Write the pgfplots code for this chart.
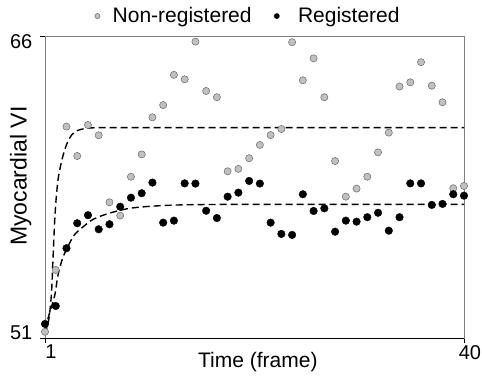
\documentclass[border=0pt]{standalone}
\usepackage{fontspec}
\setmainfont{Liberation Sans}
\usepackage{pgfplots}
\pgfplotsset{compat=1.18}
\definecolor{ptgrey}{RGB}{192,192,192}
\definecolor{ptedge}{RGB}{105,105,105}
\definecolor{boxgrey}{RGB}{128,128,128}
\pgfplotsset{
  legA/.style={legend image code/.code={\draw[##1] plot coordinates {(0pt,0pt)}; \path (-3pt,0pt) (15pt,0pt);}},
  legB/.style={legend image code/.code={\draw[##1] plot coordinates {(0pt,0pt)}; \path (-3pt,0pt) (21pt,0pt);}},
}
\begin{document}
\begin{tikzpicture}
\useasboundingbox (-45pt,-37pt) rectangle (437pt,338pt);
\begin{axis}[
  scale only axis, width=419pt, height=302pt,
  xmin=1, xmax=40, ymin=51, ymax=66,
  clip=false,
  font=\fontsize{20}{24}\selectfont,
  axis line style={boxgrey, line width=0.8pt},
  xtick={1,40}, xticklabels={1,40},
  ytick={51,66},
  yticklabels={\raisebox{5.5pt}[\height][\depth]{51},\raisebox{-6pt}[\height][\depth]{66}},
  xtick pos=bottom, ytick pos=left,
  tick align=outside, major tick length=5pt,
  tick style={black, line width=0.8pt},
  xticklabel style={anchor=north, inner sep=0pt, xshift=6pt, yshift=-2pt},
  yticklabel style={anchor=east, inner sep=0pt, xshift=-7.5pt},
  xlabel={Time (frame)},
  xlabel style={at={(axis description cs:0.508,-0.0454)}, anchor=north, inner sep=0pt,
    font=\fontsize{21}{25}\selectfont},
  ylabel={Myocardial VI},
  ylabel style={at={(axis description cs:-0.0317,0.536)}, anchor=south, inner sep=0pt,
    font=\fontsize{23}{27}\selectfont},
  legend style={at={(axis description cs:0.482,1.066)}, anchor=center, draw=none, fill=none,
    font=\fontsize{21}{25}\selectfont, inner sep=0pt,
    nodes={inner sep=0pt},
    /tikz/every even column/.append style={column sep=22pt}},
  legend columns=2,
  after end axis/.code={\draw[black, line width=0.8pt] (rel axis cs:0,0) -- (rel axis cs:1,0);},
]
% Non-registered
\addplot[only marks, mark=*, mark size=3.6pt, mark options={fill=ptgrey, draw=ptedge, line width=0.5pt}, forget plot]
 coordinates {
 (1,51.31) (2,54.38) (3,61.5) (4,60.04) (5,61.58) (6,61.07) (7,57.74) (8,57.08) (9,59.01) (10,60.12)
 (11,61.96) (12,62.57) (13,64.07) (14,63.85) (15,65.72) (16,63.27) (17,62.96) (18,59.28) (19,59.40) (20,59.93)
 (21,60.59) (22,61.08) (23,61.38) (24,65.69) (25,63.80) (26,64.89) (27,62.96) (28,59.79) (29,58.02) (30,58.42)
 (31,59.01) (32,60.22) (33,61.20) (34,63.49) (35,63.70) (36,64.70) (37,63.53) (38,62.71) (39,58.44) (40,58.55)
 };
% Registered
\addplot[only marks, mark=*, mark size=3.8pt, mark options={fill=black, draw=black}, forget plot]
 coordinates {
 (1,51.70) (2,52.59) (3,55.46) (4,56.70) (5,57.10) (6,56.40) (7,56.65) (8,57.52) (9,57.97) (10,58.19)
 (11,58.72) (12,56.73) (13,56.83) (14,58.68) (15,58.67) (16,57.32) (17,56.96) (18,58.02) (19,58.22) (20,58.80)
 (21,58.67) (22,56.73) (23,56.17) (24,56.12) (25,58.14) (26,57.31) (27,57.44) (28,56.28) (29,56.83) (30,56.78)
 (31,57.00) (32,57.22) (33,56.33) (34,57.00) (35,58.68) (36,58.68) (37,57.61) (38,57.66) (39,58.14) (40,58.07)
 };
% fitted curves
\addplot[black, line width=1.4pt, dash pattern=on 7pt off 4pt, smooth, forget plot]
 coordinates {
 (1,51.2) (1.35,51.9) (1.6,53.2) (1.75,55.0) (1.9,56.8) (2.05,58.0) (2.25,59.0) (2.6,59.9)
 (3.0,60.6) (3.5,61.1) (4.0,61.3) (4.7,61.4) (6,61.45) (10,61.45) (40,61.45)
 };
\addplot[black, line width=1.4pt, dash pattern=on 7pt off 4pt, smooth, forget plot]
 coordinates {
 (1,51.4) (1.4,52.2) (1.9,53.1) (2.2,54.1) (2.6,54.9) (3.0,55.4) (3.7,56.1) (4.5,56.5)
 (5.5,56.9) (7,57.2) (9,57.45) (12,57.58) (16,57.63) (25,57.64) (40,57.64)
 };
\addlegendimage{legA, only marks, mark=*, mark size=2.6pt, mark options={fill=ptgrey, draw=ptedge, line width=0.5pt}}
\addlegendentry{Non-registered}
\addlegendimage{legB, only marks, mark=*, mark size=2.6pt, mark options={fill=black, draw=black}}
\addlegendentry{Registered}
\end{axis}
\end{tikzpicture}
\end{document}
